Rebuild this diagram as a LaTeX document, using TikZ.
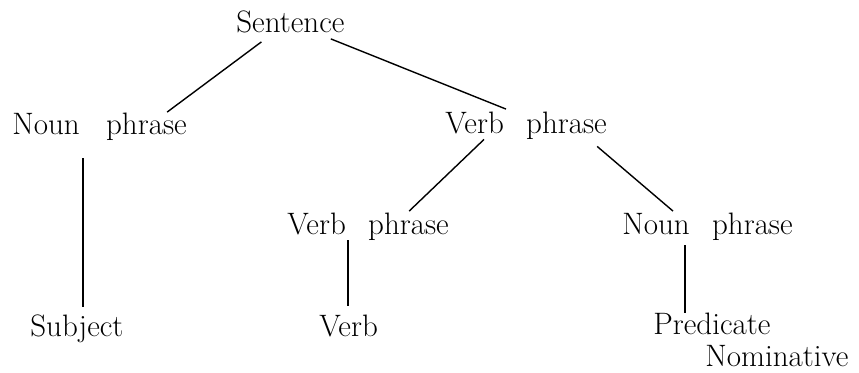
\documentclass[tikz,border=0pt]{standalone}
\usepackage{tikz}

\newcommand{\wgap}{\hspace{0.72em}}

\begin{document}
\begin{tikzpicture}[x=0.5pt, y=-0.5pt,
  word/.style={inner sep=0pt, anchor=base west, font=\fontsize{15.5}{16}\selectfont},
  branch/.style={line width=0.7pt}]

\useasboundingbox (0,0) rectangle (859,373);

% Words of the tree
\node [word] (s)    at (236,33)  {Sentence};
\node [word] (np)   at (12,135)  {Noun\hspace{0.85em}phrase};
\node [word] (vp)   at (445,134) {Verb\wgap phrase};
\node [word] (vp2)  at (287,235) {Verb\wgap phrase};
\node [word] (np2)  at (622,235) {Noun\wgap phrase};
\node [word] (subj) at (30,337)  {Subject};
\node [word] (verb) at (319,337) {Verb};
\node [word, anchor=north west, align=left] (pred) at (653,313) {Predicate\\\hspace*{26pt}Nominative};

% Branches
\draw [branch] ([shift={(-29,8)}]s.south) -- ([shift={(-20,-1)}]np.north east);
\draw [branch] ([shift={(-14,5)}]s.south east) -- ([shift={(61,-3)}]vp.north west);
\draw [branch] ([shift={(71,17)}]np.south west) -- ([shift={(71,-8)}]np.south west |- subj.north);
\draw [branch] ([shift={(39,-1)}]vp.south west) -- ([shift={(-40,-2)}]vp2.north east);
\draw [branch] ([shift={(-10,6)}]vp.south east) -- ([shift={(51,-2)}]np2.north west);
\draw [branch] ([shift={(61,-1)}]vp2.south west) -- ([shift={(61,-9)}]vp2.south west |- verb.north);
\draw [branch] ([shift={(63,4)}]np2.south west) -- ([shift={(32,0)}]pred.north west);

\end{tikzpicture}
\end{document}
